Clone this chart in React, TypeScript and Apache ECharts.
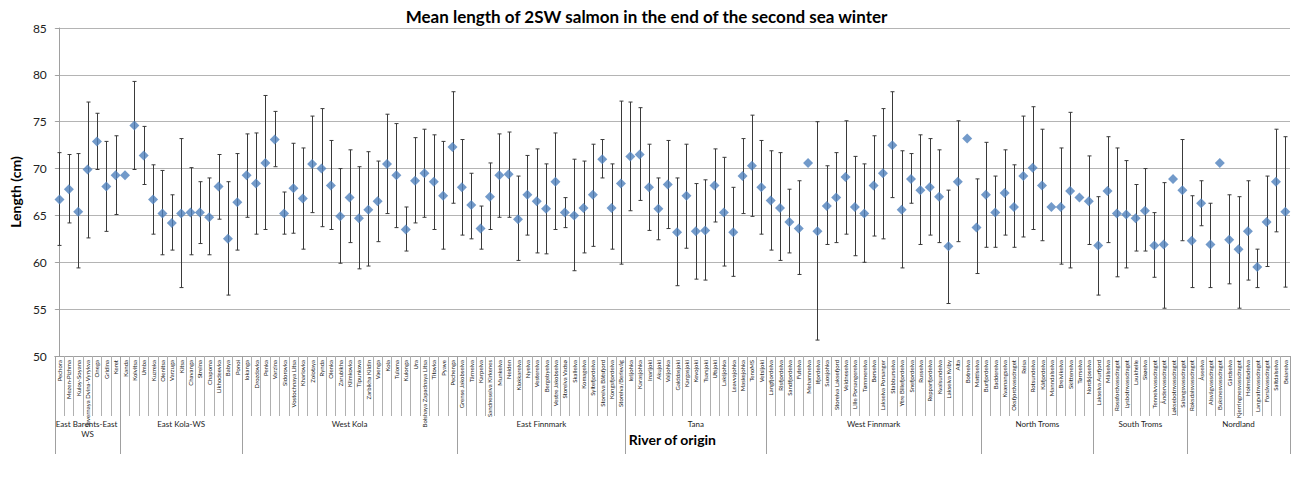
import React, { useEffect, useRef } from "react";
import * as echarts from "echarts";

const rivers = [
  "Pechora", "Mezen-Pizhma", "Kuloy-Soyana", "Severnaya Dvina-Vyrykva", "Onega", "Gridina", "Keret",
  "Kanda", "Kolvitsa", "Umba", "Kuzreka", "Olenitsa", "Varzuga", "Kitsa", "Chavanga", "Strelna", "Chapoma", "Likhodeevka", "Babya", "Ponoi",
  "Iokanga", "Drozdovka", "Penka", "Varzina", "Sidorovka", "Vostochnaya Litsa", "Kharlovka", "Zolotaya", "Rynda", "Olenka", "Zarubikha", "Klimkovka", "Tipunkova", "Zarbikha Kildin", "Vaenga", "Kola", "Tuloma", "Kulonga", "Ura", "Bolshaya Zapadnaya Litsa", "Titovka", "Pyave", "Pechenga",
  "Grense Jakobselva", "Tårnelva", "Karpelva", "Sandneselva Kirkenes", "Munkelva", "Neiden", "Klokkarelva", "Nyelva", "Vesterelva", "Bergebyelva", "Vestre Jakobselva", "Storelva Vadsø", "Skallelva", "Komagelva", "Syltefjordelva", "Storelva Båtsfjord", "Kongsfjordelva", "Storelva/Berlevåg",
  "Iešjohka", "Karasjohka", "Inarijoki", "Akujoki", "Valjohka", "Galddasjoki", "Kargasjoki", "Kevojoki", "Tsarsjoki", "Utsjoki", "Lakšjohka", "Leavvajohka", "Maskejohka", "TenoMS", "Vetsijoki",
  "Langfjordelva", "Risfjordelva", "Sandfjordelva", "Futelva", "Mehamnelva", "Ifjordelva", "Suosjohka", "Storelva Laksefjord", "Veidneselva", "Lille Porsangerelva", "Tømmerelva", "Børselva", "Lakselva Porsanger", "Stabburselva", "Ytre Billefjordelva", "Snefjordelva", "Russelva", "Repparfjordelva", "Kvalsundelva", "Lakselva Kviby", "Alta", "Botnelva", "Mattiselva",
  "Burfjordelva", "Badderelva", "Kvænangselva", "Oksfjordvassdraget", "Reisa", "Rotsundelva", "Kåfjordelva", "Manndalselva", "Breivikelva", "Skittenelva", "Tørrselva", "Nordkjoselva",
  "Lakselva Aurfjord", "Målselva", "Rossfordvassdraget", "Lysbotnvassdraget", "Laukhelle", "Skøelva", "Tennelvvassdraget", "Åndervassdraget", "Løksebotnvassdraget", "Salangsvassdraget",
  "Roksdalsvassdraget", "Åseelva", "Alsvågvassdraget", "Buksnesvassdraget", "Gårdselva", "Kjerringnesvassdraget", "Holmstadelva", "Langvatnvassdraget", "Forsåvassdraget", "Saltdalselva", "Beiarelva",
];

const groupNames = ["East Barents-East WS", "East Kola-WS", "West Kola", "East Finnmark", "Tana", "West Finnmark", "North Troms", "South Troms", "Nordland"];
const groupSizes = [7, 13, 23, 18, 15, 23, 12, 10, 11];

const meanLength = [
  66.7, 67.8, 65.4, 69.9, 72.9, 68.1, 69.3,
  69.3, 74.6, 71.4, 66.7, 65.2, 64.2, 65.2, 65.3, 65.3, 64.8, 68.1, 62.5, 66.4,
  69.3, 68.4, 70.6, 73.1, 65.2, 67.9, 66.8, 70.5, 70.0, 68.2, 64.9, 66.9, 64.7, 65.6, 66.5, 70.5, 69.3, 63.5, 68.7, 69.5, 68.6, 67.1, 72.3,
  68.0, 66.1, 63.6, 67.0, 69.3, 69.4, 64.6, 67.2, 66.5, 65.7, 68.6, 65.3, 65.0, 65.8, 67.2, 71.0, 65.8, 68.4,
  71.3, 71.5, 68.0, 65.7, 68.3, 63.2, 67.1, 63.3, 63.4, 68.2, 65.3, 63.2, 69.2, 70.3, 68.0,
  66.6, 65.8, 64.3, 63.6, 70.6, 63.3, 66.0, 66.9, 69.1, 65.9, 65.2, 68.2, 69.5, 72.5, 65.6, 68.9, 67.7, 68.0, 67.0, 61.7, 68.6, 73.2, 63.7,
  67.2, 65.3, 67.4, 65.9, 69.2, 70.1, 68.2, 65.9, 65.9, 67.6, 66.9, 66.5,
  61.8, 67.6, 65.2, 65.1, 64.7, 65.5, 61.8, 61.9, 68.9, 67.7,
  62.3, 66.3, 61.9, 70.6, 62.4, 61.4, 63.3, 59.5, 64.3, 68.6, 65.4,
];

const upperLength = [
  71.7, 71.5, 71.6, 77.1, 75.9, 72.9, 73.5,
  null, 79.3, 74.5, 70.4, 69.8, 67.2, 73.2, 70.1, 68.6, 69.0, 71.5, 68.6, 71.6,
  73.7, 73.8, 77.8, 76.1, 67.5, 72.7, 72.2, 75.6, 76.4, 73.0, 70.0, 72.0, 70.2, 71.8, 70.8, 75.8, 74.8, 65.9, 73.3, 74.2, 73.6, 72.9, 78.2,
  73.1, 69.5, 66.0, 70.6, 73.7, 73.9, 69.2, 71.4, 72.1, 70.5, 73.8, 66.9, 71.0, 70.8, 72.6, 73.1, 70.5, 77.2,
  77.1, 76.5, 72.6, 69.0, 73.0, 69.0, 72.6, 68.4, 68.8, 72.1, 71.2, 68.0, 73.2, 75.7, 73.0,
  71.9, 71.7, 67.8, 68.7, null, 75.0, 70.3, 71.7, 75.1, 71.3, 70.5, 73.5, 76.4, 78.2, 71.9, 71.6, 73.6, 73.2, 72.0, 67.7, 75.1, null, 68.9,
  72.8, 69.2, 72.0, 70.4, 75.6, 76.6, 74.2, null, 72.2, 76.0, null, 71.35,
  67.0, 73.4, 72.2, 70.85, 68.3, 70.0, 65.3, 68.5, null, 73.1,
  67.1, 68.7, 66.3, null, 67.2, 67.0, 68.7, 61.4, 69.2, 74.2, 73.4,
];

const lowerLength = [
  61.8, 64.2, 59.4, 62.6, 69.9, 63.3, 65.1,
  null, 69.9, 68.3, 63.0, 60.8, 61.3, 57.3, 60.8, 62.0, 60.8, 64.6, 56.5, 61.3,
  64.8, 63.0, 63.5, 70.2, 63.0, 63.1, 61.4, 65.3, 63.8, 63.5, 59.9, 62.1, 59.3, 59.6, 62.2, 65.2, 63.7, 61.2, 64.2, 64.8, 63.5, 61.4, 66.3,
  62.9, 62.5, 61.4, 63.5, 64.8, 64.8, 60.2, 62.9, 61.0, 60.9, 63.5, 63.7, 59.1, 61.0, 61.7, 69.0, 61.4, 59.8,
  65.5, 66.6, 63.4, 62.4, 63.6, 57.5, 61.5, 58.2, 58.1, 64.3, 59.6, 58.5, 65.2, 64.9, 63.0,
  61.3, 60.2, 61.0, 58.7, null, 51.7, 61.9, 62.1, 63.0, 60.7, 60.0, 62.8, 62.5, 66.9, 59.4, 66.3, 61.9, 62.9, 62.1, 55.6, 62.2, null, 58.8,
  61.6, 61.6, 62.9, 61.6, 62.7, 63.5, 62.3, null, 59.8, 59.4, null, 61.9,
  56.5, 62.1, 58.45, 59.4, 61.2, 61.2, 58.4, 55.1, null, 62.3,
  57.3, 63.9, 57.3, null, 57.7, 55.1, 58.1, 57.3, 59.55, 63.25, 57.35,
];

const yTicks = [50, 55, 60, 65, 70, 75, 80, 85];

const FONT = "Lato, 'Liberation Sans', sans-serif";

export default function App() {
  const ref = useRef<HTMLDivElement>(null);

  useEffect(() => {
    if (!ref.current) return;
    const chart = echarts.init(ref.current, undefined, { renderer: "svg" });

    const boundaries: number[] = [-0.5];
    const centers: number[] = [];
    let acc = 0;
    groupSizes.forEach((s) => {
      centers.push(acc + (s - 1) / 2);
      acc += s;
      boundaries.push(acc - 0.5);
    });

    const errData = rivers
      .map((_, i) => [i, lowerLength[i], upperLength[i]])
      .filter((d) => d[1] != null && d[2] != null);

    const option: any = {
      animation: false,
      textStyle: { fontFamily: FONT },
      title: {
        text: "Mean length of 2SW salmon in the end of the second sea winter",
        left: "center",
        top: 3,
        textStyle: { fontFamily: FONT, fontWeight: "bold", fontSize: 17, color: "#000" },
      },
      grid: { left: 45, right: 3, top: 28, bottom: 126, containLabel: false },
      xAxis: [
        {
          type: "category",
          data: rivers,
          boundaryGap: true,
          axisLine: { show: true, lineStyle: { color: "#a0a0a0" } },
          axisTick: { show: true, interval: 0, length: 60, lineStyle: { color: "#b0b0b0" } },
          axisLabel: {
            interval: 0,
            rotate: 90,
            fontSize: 6,
            margin: 4,
            color: "#222",
            fontFamily: FONT,
          },
          splitLine: { show: false },
        },
        {
          type: "value",
          min: -0.5,
          max: rivers.length - 0.5,
          position: "bottom",
          axisLine: { show: false },
          axisTick: {
            show: true,
            customValues: boundaries,
            length: 98,
            lineStyle: { color: "#a0a0a0" },
          },
          axisLabel: {
            show: true,
            customValues: centers,
            margin: 63,
            fontSize: 8,
            color: "#222",
            fontFamily: FONT,
            width: 76,
            overflow: "break",
            lineHeight: 10,
            formatter: (v: number) => {
              const k = centers.findIndex((c) => Math.abs(c - v) < 0.01);
              return k >= 0 ? groupNames[k] : "";
            },
          },
          splitLine: { show: false },
          name: "River of origin",
          nameLocation: "middle",
          nameGap: 76,
          nameMoveOverlap: false,
          nameTextStyle: { fontFamily: FONT, fontWeight: "bold", fontSize: 14, color: "#000" },
        },
      ],
      yAxis: {
        type: "value",
        min: yTicks[0],
        max: yTicks[yTicks.length - 1],
        interval: 5,
        name: "Length (cm)",
        nameLocation: "middle",
        nameGap: 30,
        nameRotate: 90,
        nameTextStyle: { fontFamily: FONT, fontWeight: "bold", fontSize: 14, color: "#000" },
        axisLine: { show: true, lineStyle: { color: "#a0a0a0" } },
        axisTick: { show: true, length: 4, lineStyle: { color: "#a0a0a0" } },
        axisLabel: { fontSize: 12, color: "#222", margin: 8, fontFamily: FONT },
        splitLine: { show: true, lineStyle: { color: "#b4b4b4", width: 1 } },
      },
      series: [
        {
          type: "custom",
          xAxisIndex: 0,
          yAxisIndex: 0,
          z: 1,
          encode: { x: 0, y: [1, 2] },
          data: errData,
          renderItem: (params: any, api: any) => {
            const x = api.value(0);
            const lo = api.value(1);
            const hi = api.value(2);
            const top = api.coord([x, hi]);
            const bot = api.coord([x, lo]);
            const cx = Math.round(top[0]) + 0.5;
            const cw = 2;
            const style = { stroke: "#3a3a3a", lineWidth: 1 };
            return {
              type: "group",
              children: [
                { type: "line", shape: { x1: cx, y1: top[1], x2: cx, y2: bot[1] }, style },
                { type: "line", shape: { x1: cx - cw, y1: top[1], x2: cx + cw, y2: top[1] }, style },
                { type: "line", shape: { x1: cx - cw, y1: bot[1], x2: cx + cw, y2: bot[1] }, style },
              ],
            };
          },
        },
        {
          type: "scatter",
          xAxisIndex: 0,
          yAxisIndex: 0,
          z: 2,
          symbol: "diamond",
          symbolSize: 10,
          itemStyle: { color: "#4f81bd" },
          data: meanLength,
        },
      ],
    };

    chart.setOption(option);
    return () => chart.dispose();
  }, []);

  return (
    <div
      ref={ref}
      style={{ position: "absolute", left: 0, top: 0, width: 1293, height: 482 }}
    />
  );
}
